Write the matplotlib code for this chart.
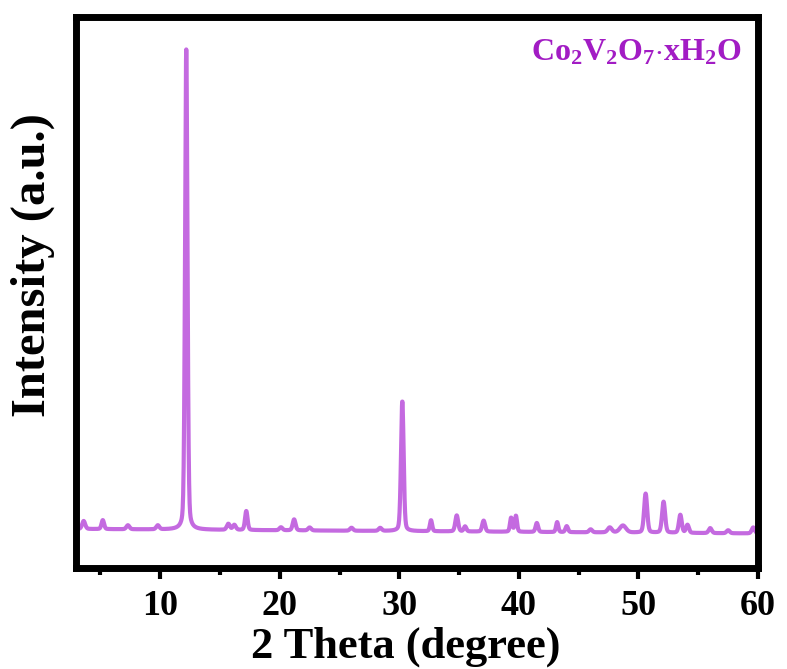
import numpy as np
import matplotlib
matplotlib.use('Agg')
from matplotlib import pyplot as plt
from matplotlib.ticker import MultipleLocator, NullLocator

# Reflections: 2-theta position, height above background, FWHM (deg)
peak_pos = [3.6, 5.2, 7.3, 9.8, 12.18, 15.7, 16.2, 17.2, 20.1, 21.2,
            22.5, 26.0, 28.4, 30.25, 32.65, 34.8, 35.5, 37.05, 39.35, 39.75,
            41.5, 43.2, 44.0, 46.0, 47.6, 48.7, 50.6, 52.1, 53.5, 54.1,
            56.0, 57.5, 59.6]
peak_height = [80, 90, 40, 40, 4800, 60, 50, 190, 30, 110,
               30, 30, 30, 1300, 110, 160, 50, 110, 140, 160,
               90, 100, 60, 30, 50, 70, 390, 310, 180, 80,
               50, 30, 60]
peak_fwhm = [0.3, 0.25, 0.3, 0.3, 0.24, 0.3, 0.3, 0.25, 0.3, 0.28,
             0.3, 0.3, 0.3, 0.26, 0.22, 0.28, 0.25, 0.28, 0.22, 0.22,
             0.25, 0.22, 0.25, 0.3, 0.4, 0.6, 0.3, 0.3, 0.28, 0.28,
             0.3, 0.3, 0.3]

# background level at the two ends of the scan
bg_start, bg_end = 390, 345
two_theta = np.arange(3.0, 60.0, 0.02)

# pseudo-Voigt profiles, mostly Gaussian
eta = 0.25
intensity = bg_start + (bg_end - bg_start) * (two_theta - 3.0) / 57.0
for pos, h, w in zip(peak_pos, peak_height, peak_fwhm):
    d = two_theta - pos
    gauss = np.exp(-4 * np.log(2) * d ** 2 / w ** 2)
    lorentz = (w / 2) ** 2 / (d ** 2 + (w / 2) ** 2)
    intensity = intensity + h * (eta * lorentz + (1 - eta) * gauss)

plt.rcParams['font.family'] = ['Liberation Serif', 'DejaVu Serif']
plt.rcParams['font.weight'] = 'bold'
plt.rcParams['mathtext.fontset'] = 'custom'
plt.rcParams['mathtext.rm'] = 'Liberation Serif:bold'
plt.rcParams['mathtext.bf'] = 'Liberation Serif:bold'

fig = plt.figure(figsize=(7.87, 6.69), dpi=100)
ax = fig.add_axes([0.0972, 0.151, 0.866, 0.824])

ax.plot(two_theta, intensity, color='#C46AE0', lw=3)

ax.set_xlim(3, 60)
ax.set_ylim(0, 5510)
ax.xaxis.set_major_locator(MultipleLocator(10))
ax.xaxis.set_minor_locator(MultipleLocator(5))
ax.yaxis.set_major_locator(NullLocator())
ax.yaxis.set_minor_locator(NullLocator())

for side in ax.spines.values():
    side.set_linewidth(5)
ax.tick_params(axis='x', which='major', direction='out', length=8, width=3,
               labelsize=26, pad=8)
ax.tick_params(axis='x', which='minor', direction='out', length=5, width=3)
for lab in ax.get_xticklabels():
    lab.set_fontweight('bold')

ax.set_xlabel('2 Theta (degree)', fontsize=32, fontweight='bold')
ax.xaxis.set_label_coords(0.483, -0.106)
ax.set_ylabel('Intensity (a.u.)', fontsize=35, fontweight='bold')
ax.yaxis.set_label_coords(-0.032, 0.55)

ax.text(0.977, 0.962, r'$\mathrm{Co_2V_2O_7{\cdot}xH_2O}$', transform=ax.transAxes,
        ha='right', va='top', fontsize=23, color='#A21CC4')

fig.savefig('out.png', dpi=100)
